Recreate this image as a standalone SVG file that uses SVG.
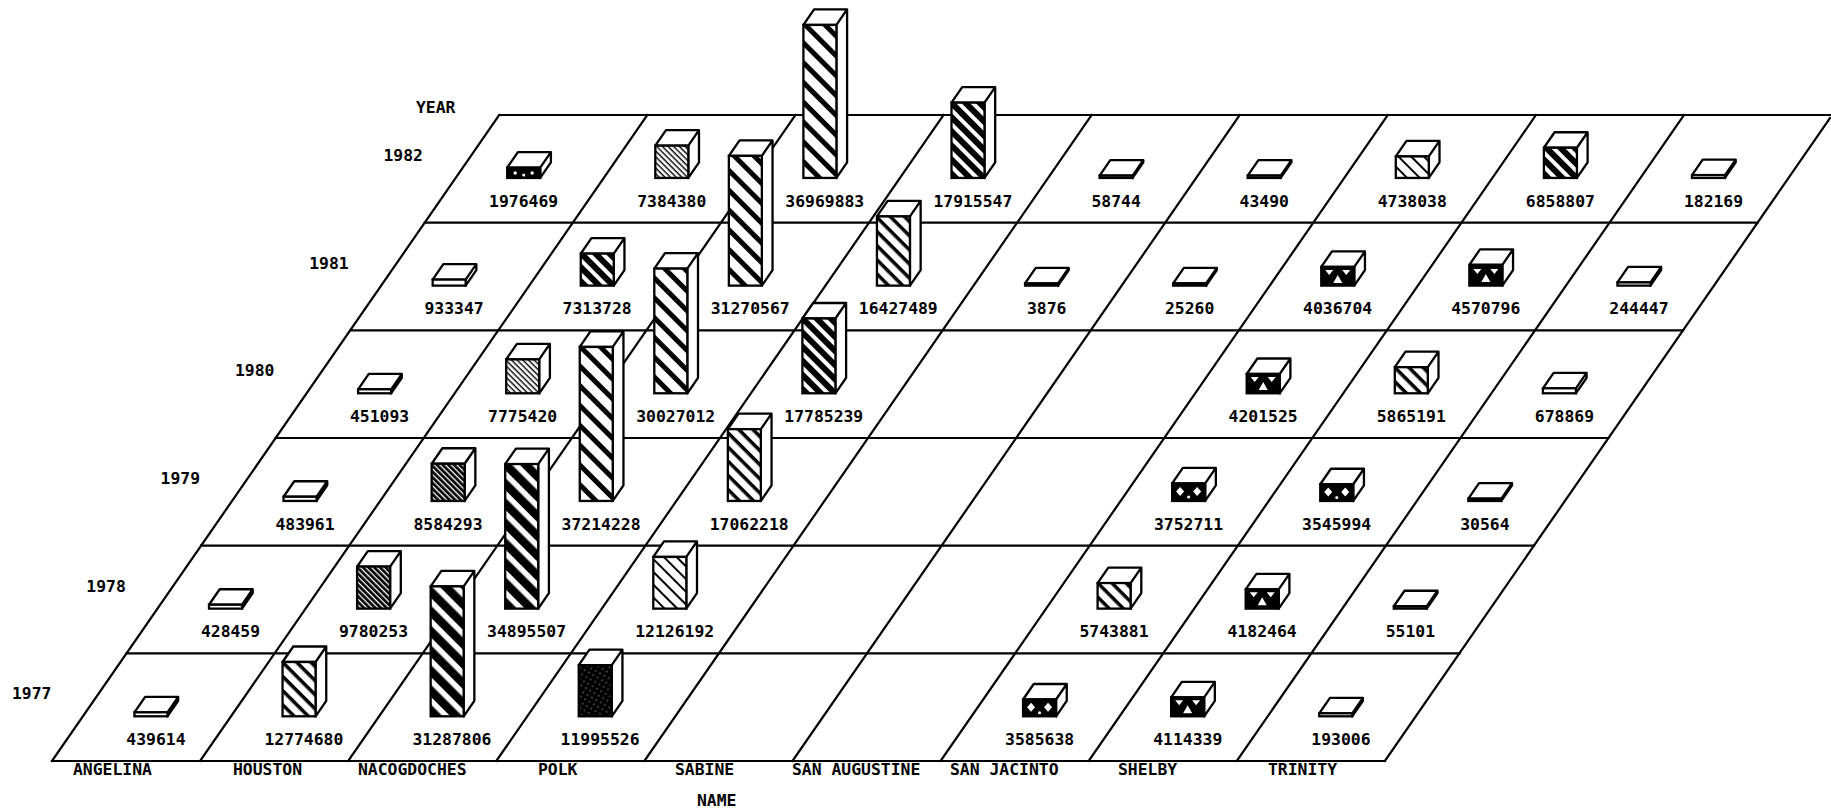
<svg xmlns="http://www.w3.org/2000/svg" width="1831" height="809" viewBox="0 0 1831 809">
<style>
.g{stroke:#000;stroke-width:2.2;fill:none;stroke-linecap:square}
.b{fill:#fff;stroke:#000;stroke-width:2.3;stroke-linejoin:round}
.f{stroke:#000;stroke-width:2.3}
text{font-family:"DejaVu Sans Mono","Liberation Mono",monospace;font-size:16.4px;fill:#000;font-weight:bold}
</style>
<defs>
<pattern id="sW" width="14" height="14" patternUnits="userSpaceOnUse" patternTransform="rotate(45)"><rect width="14" height="14" fill="#fff"/><rect width="14" height="5" fill="#000"/></pattern>
<pattern id="sWD" width="14" height="14" patternUnits="userSpaceOnUse" patternTransform="rotate(45)"><rect width="14" height="14" fill="#000"/><rect width="14" height="5.5" fill="#fff"/></pattern>
<pattern id="sM" width="10" height="10" patternUnits="userSpaceOnUse" patternTransform="rotate(45)"><rect width="10" height="10" fill="#fff"/><rect width="10" height="3.5" fill="#000"/></pattern>
<pattern id="sMD" width="10" height="10" patternUnits="userSpaceOnUse" patternTransform="rotate(45)"><rect width="10" height="10" fill="#000"/><rect width="10" height="4" fill="#fff"/></pattern>
<pattern id="sT" width="9" height="9" patternUnits="userSpaceOnUse" patternTransform="rotate(45)"><rect width="9" height="9" fill="#fff"/><rect width="9" height="2" fill="#000"/></pattern>
<pattern id="hF" width="4" height="4" patternUnits="userSpaceOnUse" patternTransform="rotate(45)"><rect width="4" height="4" fill="#fff"/><rect width="4" height="1.4" fill="#000"/></pattern>
<pattern id="hFD" width="4" height="4" patternUnits="userSpaceOnUse" patternTransform="rotate(45)"><rect width="4" height="4" fill="#000"/><rect width="4" height="1.3" fill="#fff"/></pattern>
<pattern id="dD" width="5" height="5" patternUnits="userSpaceOnUse" patternTransform="rotate(30)"><rect width="5" height="5" fill="#000"/><circle cx="2" cy="2" r="0.6" fill="#fff"/></pattern>
<g id="tri"><path fill="#fff" d="M4 3h8l-4 5z M21 3h8l-4 5z M12 16h9l-4.5-8z"/></g>
<g id="cir"><path fill="#fff" d="M8 3.5l4 4.5-4 4.5-4-4.5z M25 3.5l4 4.5-4 4.5-4-4.5z"/><circle cx="16.5" cy="13.5" r="1.5" fill="#fff"/></g>
</defs>
<rect width="1831" height="809" fill="#fff"/>

<g id="grid" class="g">
<path d="M52 761H1384.9 M126.55 653.33H1459.45 M201.1 545.66H1534 M275.65 437.99H1608.55 M350.2 330.32H1683.1 M424.75 222.65H1757.65 M499.3 114.98H1830"/>
<path d="M52 761L499.3 114.98 M200.1 761L647.4 114.98 M348.2 761L795.5 114.98 M496.3 761L943.6 114.98 M644.4 761L1091.7 114.98 M792.5 761L1239.8 114.98 M940.6 761L1387.9 114.98 M1088.7 761L1536 114.98 M1236.8 761L1684.1 114.98 M1384.9 761L1830 118"/>
</g>

<g id="axis-labels">
<text x="416" y="112.7">YEAR</text>
<text x="383.5" y="160.9">1982</text>
<text x="309.2" y="268.6">1981</text>
<text x="234.9" y="376.3">1980</text>
<text x="160.6" y="484">1979</text>
<text x="86.3" y="591.6">1978</text>
<text x="12" y="699.3">1977</text>
<text x="73" y="775">ANGELINA</text>
<text x="233" y="775">HOUSTON</text>
<text x="358" y="775">NACOGDOCHES</text>
<text x="538" y="775">POLK</text>
<text x="675" y="775">SABINE</text>
<text x="792" y="775">SAN AUGUSTINE</text>
<text x="950" y="775">SAN JACINTO</text>
<text x="1118" y="775">SHELBY</text>
<text x="1268" y="775">TRINITY</text>
<text x="697" y="805.5">NAME</text>
</g>

<g id="row-1982">
<g transform="translate(507.2,177.95)"><path class="b" d="M0 -10.3l10.7 -15.5h33V-15.5L33 0V-10.3Z m33 0l10.7 -15.5"/><rect class="f" y="-10.3" width="33" height="10.3" fill="#000"/><g fill="#fff"><circle cx="8" cy="-5" r="1.7"/><circle cx="16.5" cy="-3" r="1.5"/><circle cx="25" cy="-5" r="1.7"/></g></g>
<g transform="translate(655.3,177.95)"><path class="b" d="M0 -32.3l10.7 -15.5h33V-15.5L33 0V-32.3Z m33 0l10.7 -15.5"/><rect class="f" y="-32.3" width="33" height="32.3" fill="url(#hF)"/></g>
<g transform="translate(803.4,177.95)"><path class="b" d="M0 -153l10.7 -15.5h33V-15.5L33 0V-153Z m33 0l10.7 -15.5"/><rect class="f" y="-153" width="33" height="153" fill="url(#sW)"/></g>
<g transform="translate(951.5,177.95)"><path class="b" d="M0 -75.3l10.7 -15.5h33V-15.5L33 0V-75.3Z m33 0l10.7 -15.5"/><rect class="f" y="-75.3" width="33" height="75.3" fill="url(#sMD)"/></g>
<g transform="translate(1099.6,177.95)"><path class="b" d="M0 -2.4l10.7 -15.5h33V-15.5L33 0V-2.4Z m33 0l10.7 -15.5"/><rect class="f" y="-2.4" width="33" height="2.4" fill="#fff"/></g>
<g transform="translate(1247.7,177.95)"><path class="b" d="M0 -2.4l10.7 -15.5h33V-15.5L33 0V-2.4Z m33 0l10.7 -15.5"/><rect class="f" y="-2.4" width="33" height="2.4" fill="#fff"/></g>
<g transform="translate(1395.8,177.95)"><path class="b" d="M0 -21.5l10.7 -15.5h33V-15.5L33 0V-21.5Z m33 0l10.7 -15.5"/><rect class="f" y="-21.5" width="33" height="21.5" fill="url(#sT)"/></g>
<g transform="translate(1543.9,177.95)"><path class="b" d="M0 -30.2l10.7 -15.5h33V-15.5L33 0V-30.2Z m33 0l10.7 -15.5"/><rect class="f" y="-30.2" width="33" height="30.2" fill="url(#sMD)"/></g>
<g transform="translate(1692,177.95)"><path class="b" d="M0 -2.9l10.7 -15.5h33V-15.5L33 0V-2.9Z m33 0l10.7 -15.5"/><rect class="f" y="-2.9" width="33" height="2.9" fill="#fff"/></g>
<text x="489.1" y="206.65">1976469</text>
<text x="637.2" y="206.65">7384380</text>
<text x="785.3" y="206.65">36969883</text>
<text x="933.4" y="206.65">17915547</text>
<text x="1091.5" y="206.65">58744</text>
<text x="1239.6" y="206.65">43490</text>
<text x="1377.7" y="206.65">4738038</text>
<text x="1525.8" y="206.65">6858807</text>
<text x="1683.9" y="206.65">182169</text>
</g>

<g id="row-1981">
<g transform="translate(432.65,285.62)"><path class="b" d="M0 -6l10.7 -15.5h33V-15.5L33 0V-6Z m33 0l10.7 -15.5"/><rect class="f" y="-6" width="33" height="6" fill="#fff"/></g>
<g transform="translate(580.75,285.62)"><path class="b" d="M0 -32l10.7 -15.5h33V-15.5L33 0V-32Z m33 0l10.7 -15.5"/><rect class="f" y="-32" width="33" height="32" fill="url(#sMD)"/></g>
<g transform="translate(728.85,285.62)"><path class="b" d="M0 -129.8l10.7 -15.5h33V-15.5L33 0V-129.8Z m33 0l10.7 -15.5"/><rect class="f" y="-129.8" width="33" height="129.8" fill="url(#sW)"/></g>
<g transform="translate(876.95,285.62)"><path class="b" d="M0 -69.2l10.7 -15.5h33V-15.5L33 0V-69.2Z m33 0l10.7 -15.5"/><rect class="f" y="-69.2" width="33" height="69.2" fill="url(#sM)"/></g>
<g transform="translate(1025.05,285.62)"><path class="b" d="M0 -2.2l10.7 -15.5h33V-15.5L33 0V-2.2Z m33 0l10.7 -15.5"/><rect class="f" y="-2.2" width="33" height="2.2" fill="#fff"/></g>
<g transform="translate(1173.15,285.62)"><path class="b" d="M0 -2.3l10.7 -15.5h33V-15.5L33 0V-2.3Z m33 0l10.7 -15.5"/><rect class="f" y="-2.3" width="33" height="2.3" fill="#fff"/></g>
<g transform="translate(1321.25,285.62)"><path class="b" d="M0 -18.7l10.7 -15.5h33V-15.5L33 0V-18.7Z m33 0l10.7 -15.5"/><rect class="f" y="-18.7" width="33" height="18.7" fill="#000"/><use href="#tri" transform="translate(0,-18.7)"/></g>
<g transform="translate(1469.35,285.62)"><path class="b" d="M0 -20.8l10.7 -15.5h33V-15.5L33 0V-20.8Z m33 0l10.7 -15.5"/><rect class="f" y="-20.8" width="33" height="20.8" fill="#000"/><use href="#tri" transform="translate(0,-19.5)"/></g>
<g transform="translate(1617.45,285.62)"><path class="b" d="M0 -3.2l10.7 -15.5h33V-15.5L33 0V-3.2Z m33 0l10.7 -15.5"/><rect class="f" y="-3.2" width="33" height="3.2" fill="#fff"/></g>
<text x="424.5" y="314.32">933347</text>
<text x="562.6" y="314.32">7313728</text>
<text x="710.7" y="314.32">31270567</text>
<text x="858.8" y="314.32">16427489</text>
<text x="1026.9" y="314.32">3876</text>
<text x="1165" y="314.32">25260</text>
<text x="1303.1" y="314.32">4036704</text>
<text x="1451.2" y="314.32">4570796</text>
<text x="1609.3" y="314.32">244447</text>
</g>

<g id="row-1980">
<g transform="translate(358.1,393.29)"><path class="b" d="M0 -4l10.7 -15.5h33V-15.5L33 0V-4Z m33 0l10.7 -15.5"/><rect class="f" y="-4" width="33" height="4" fill="#fff"/></g>
<g transform="translate(506.2,393.29)"><path class="b" d="M0 -33.9l10.7 -15.5h33V-15.5L33 0V-33.9Z m33 0l10.7 -15.5"/><rect class="f" y="-33.9" width="33" height="33.9" fill="url(#hF)"/></g>
<g transform="translate(654.3,393.29)"><path class="b" d="M0 -124.7l10.7 -15.5h33V-15.5L33 0V-124.7Z m33 0l10.7 -15.5"/><rect class="f" y="-124.7" width="33" height="124.7" fill="url(#sW)"/></g>
<g transform="translate(802.4,393.29)"><path class="b" d="M0 -74.8l10.7 -15.5h33V-15.5L33 0V-74.8Z m33 0l10.7 -15.5"/><rect class="f" y="-74.8" width="33" height="74.8" fill="url(#sMD)"/></g>
<g transform="translate(1246.7,393.29)"><path class="b" d="M0 -19.3l10.7 -15.5h33V-15.5L33 0V-19.3Z m33 0l10.7 -15.5"/><rect class="f" y="-19.3" width="33" height="19.3" fill="#000"/><use href="#tri" transform="translate(0,-19.3)"/></g>
<g transform="translate(1394.8,393.29)"><path class="b" d="M0 -26.1l10.7 -15.5h33V-15.5L33 0V-26.1Z m33 0l10.7 -15.5"/><rect class="f" y="-26.1" width="33" height="26.1" fill="url(#sM)"/></g>
<g transform="translate(1542.9,393.29)"><path class="b" d="M0 -5l10.7 -15.5h33V-15.5L33 0V-5Z m33 0l10.7 -15.5"/><rect class="f" y="-5" width="33" height="5" fill="#fff"/></g>
<text x="350" y="421.99">451093</text>
<text x="488.1" y="421.99">7775420</text>
<text x="636.2" y="421.99">30027012</text>
<text x="784.3" y="421.99">17785239</text>
<text x="1228.6" y="421.99">4201525</text>
<text x="1376.7" y="421.99">5865191</text>
<text x="1534.8" y="421.99">678869</text>
</g>

<g id="row-1979">
<g transform="translate(283.55,500.96)"><path class="b" d="M0 -4.2l10.7 -15.5h33V-15.5L33 0V-4.2Z m33 0l10.7 -15.5"/><rect class="f" y="-4.2" width="33" height="4.2" fill="#fff"/></g>
<g transform="translate(431.65,500.96)"><path class="b" d="M0 -37.2l10.7 -15.5h33V-15.5L33 0V-37.2Z m33 0l10.7 -15.5"/><rect class="f" y="-37.2" width="33" height="37.2" fill="url(#hFD)"/></g>
<g transform="translate(579.75,500.96)"><path class="b" d="M0 -154l10.7 -15.5h33V-15.5L33 0V-154Z m33 0l10.7 -15.5"/><rect class="f" y="-154" width="33" height="154" fill="url(#sW)"/></g>
<g transform="translate(727.85,500.96)"><path class="b" d="M0 -71.8l10.7 -15.5h33V-15.5L33 0V-71.8Z m33 0l10.7 -15.5"/><rect class="f" y="-71.8" width="33" height="71.8" fill="url(#sM)"/></g>
<g transform="translate(1172.15,500.96)"><path class="b" d="M0 -17.5l10.7 -15.5h33V-15.5L33 0V-17.5Z m33 0l10.7 -15.5"/><rect class="f" y="-17.5" width="33" height="17.5" fill="#000"/><use href="#cir" transform="translate(0,-17.5)"/></g>
<g transform="translate(1320.25,500.96)"><path class="b" d="M0 -16.7l10.7 -15.5h33V-15.5L33 0V-16.7Z m33 0l10.7 -15.5"/><rect class="f" y="-16.7" width="33" height="16.7" fill="#000"/><use href="#cir" transform="translate(0,-17)"/></g>
<g transform="translate(1468.35,500.96)"><path class="b" d="M0 -2.3l10.7 -15.5h33V-15.5L33 0V-2.3Z m33 0l10.7 -15.5"/><rect class="f" y="-2.3" width="33" height="2.3" fill="#fff"/></g>
<text x="275.4" y="529.66">483961</text>
<text x="413.5" y="529.66">8584293</text>
<text x="561.6" y="529.66">37214228</text>
<text x="709.7" y="529.66">17062218</text>
<text x="1154" y="529.66">3752711</text>
<text x="1302.1" y="529.66">3545994</text>
<text x="1460.2" y="529.66">30564</text>
</g>

<g id="row-1978">
<g transform="translate(209,608.63)"><path class="b" d="M0 -3.9l10.7 -15.5h33V-15.5L33 0V-3.9Z m33 0l10.7 -15.5"/><rect class="f" y="-3.9" width="33" height="3.9" fill="#fff"/></g>
<g transform="translate(357.1,608.63)"><path class="b" d="M0 -42.1l10.7 -15.5h33V-15.5L33 0V-42.1Z m33 0l10.7 -15.5"/><rect class="f" y="-42.1" width="33" height="42.1" fill="url(#hFD)"/></g>
<g transform="translate(505.2,608.63)"><path class="b" d="M0 -144.6l10.7 -15.5h33V-15.5L33 0V-144.6Z m33 0l10.7 -15.5"/><rect class="f" y="-144.6" width="33" height="144.6" fill="url(#sWD)"/></g>
<g transform="translate(653.3,608.63)"><path class="b" d="M0 -51.7l10.7 -15.5h33V-15.5L33 0V-51.7Z m33 0l10.7 -15.5"/><rect class="f" y="-51.7" width="33" height="51.7" fill="url(#sT)"/></g>
<g transform="translate(1097.6,608.63)"><path class="b" d="M0 -25.6l10.7 -15.5h33V-15.5L33 0V-25.6Z m33 0l10.7 -15.5"/><rect class="f" y="-25.6" width="33" height="25.6" fill="url(#sM)"/></g>
<g transform="translate(1245.7,608.63)"><path class="b" d="M0 -19.3l10.7 -15.5h33V-15.5L33 0V-19.3Z m33 0l10.7 -15.5"/><rect class="f" y="-19.3" width="33" height="19.3" fill="#000"/><use href="#tri" transform="translate(0,-19.3)"/></g>
<g transform="translate(1393.8,608.63)"><path class="b" d="M0 -2.4l10.7 -15.5h33V-15.5L33 0V-2.4Z m33 0l10.7 -15.5"/><rect class="f" y="-2.4" width="33" height="2.4" fill="#fff"/></g>
<text x="200.9" y="637.33">428459</text>
<text x="339" y="637.33">9780253</text>
<text x="487.1" y="637.33">34895507</text>
<text x="635.2" y="637.33">12126192</text>
<text x="1079.5" y="637.33">5743881</text>
<text x="1227.6" y="637.33">4182464</text>
<text x="1385.7" y="637.33">55101</text>
</g>

<g id="row-1977">
<g transform="translate(134.45,716.3)"><path class="b" d="M0 -4l10.7 -15.5h33V-15.5L33 0V-4Z m33 0l10.7 -15.5"/><rect class="f" y="-4" width="33" height="4" fill="#fff"/></g>
<g transform="translate(282.55,716.3)"><path class="b" d="M0 -54.3l10.7 -15.5h33V-15.5L33 0V-54.3Z m33 0l10.7 -15.5"/><rect class="f" y="-54.3" width="33" height="54.3" fill="url(#sM)"/></g>
<g transform="translate(430.65,716.3)"><path class="b" d="M0 -129.9l10.7 -15.5h33V-15.5L33 0V-129.9Z m33 0l10.7 -15.5"/><rect class="f" y="-129.9" width="33" height="129.9" fill="url(#sWD)"/></g>
<g transform="translate(578.75,716.3)"><path class="b" d="M0 -51.1l10.7 -15.5h33V-15.5L33 0V-51.1Z m33 0l10.7 -15.5"/><rect class="f" y="-51.1" width="33" height="51.1" fill="url(#dD)"/></g>
<g transform="translate(1023.05,716.3)"><path class="b" d="M0 -16.8l10.7 -15.5h33V-15.5L33 0V-16.8Z m33 0l10.7 -15.5"/><rect class="f" y="-16.8" width="33" height="16.8" fill="#000"/><use href="#cir" transform="translate(0,-17)"/></g>
<g transform="translate(1171.15,716.3)"><path class="b" d="M0 -19l10.7 -15.5h33V-15.5L33 0V-19Z m33 0l10.7 -15.5"/><rect class="f" y="-19" width="33" height="19" fill="#000"/><use href="#tri" transform="translate(0,-19)"/></g>
<g transform="translate(1319.25,716.3)"><path class="b" d="M0 -3l10.7 -15.5h33V-15.5L33 0V-3Z m33 0l10.7 -15.5"/><rect class="f" y="-3" width="33" height="3" fill="#fff"/></g>
<text x="126.3" y="745">439614</text>
<text x="264.4" y="745">12774680</text>
<text x="412.5" y="745">31287806</text>
<text x="560.6" y="745">11995526</text>
<text x="1005.1" y="745">3585638</text>
<text x="1153.2" y="745">4114339</text>
<text x="1311.3" y="745">193006</text>
</g>
</svg>
